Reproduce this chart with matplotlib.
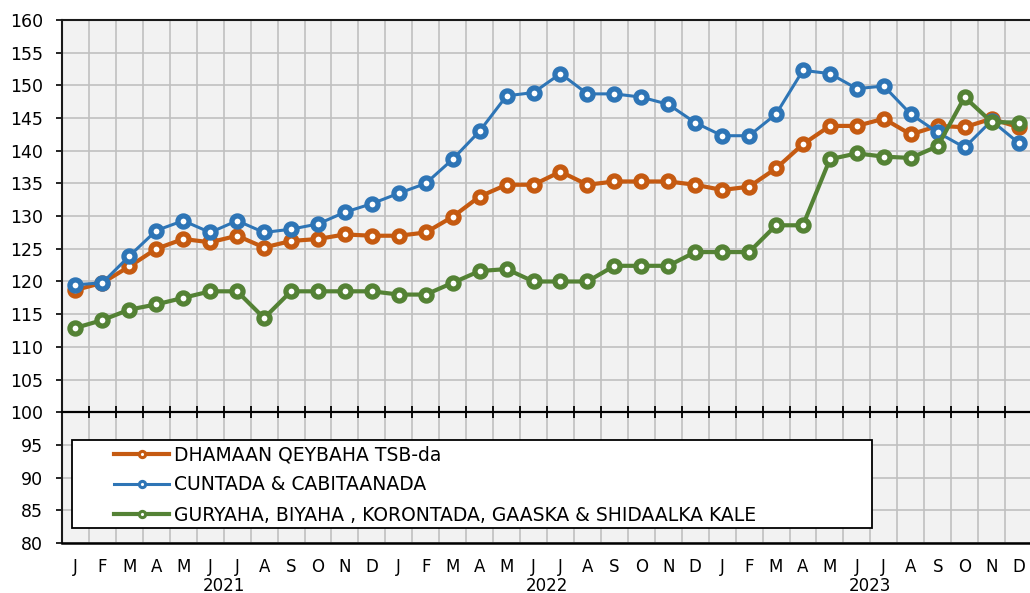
import matplotlib
matplotlib.use("Agg")
import matplotlib.pyplot as plt
import matplotlib.transforms as mtransforms
from matplotlib.patches import Rectangle

months = ["J", "F", "M", "A", "M", "J", "J", "A", "S", "O", "N", "D"] * 3
years = ["2021", "2022", "2023"]

series_names = [
    "DHAMAAN QEYBAHA TSB-da",
    "CUNTADA & CABITAANADA",
    "GURYAHA, BIYAHA , KORONTADA, GAASKA & SHIDAALKA KALE",
]

all_groups = [118.7, 119.8, 122.3, 125.0, 126.5, 126.0, 127.0, 125.2, 126.2, 126.5, 127.2, 127.0,
              127.0, 127.5, 129.9, 133.0, 134.8, 134.8, 136.8, 134.8, 135.3, 135.3, 135.3, 134.8,
              134.0, 134.5, 137.3, 141.0, 143.8, 143.8, 144.9, 142.5, 143.8, 143.6, 144.9, 143.6]

food = [119.5, 119.8, 123.9, 127.8, 129.3, 127.5, 129.3, 127.5, 128.0, 128.8, 130.6, 131.9,
        133.5, 135.0, 138.7, 143.0, 148.4, 148.9, 151.8, 148.7, 148.7, 148.2, 147.1, 144.3,
        142.3, 142.3, 145.6, 152.3, 151.8, 149.5, 149.9, 145.6, 142.8, 140.5, 144.6, 141.2]

housing = [112.9, 114.1, 115.7, 116.5, 117.5, 118.5, 118.5, 114.4, 118.5, 118.5, 118.5, 118.5,
           118.0, 118.0, 119.8, 121.6, 121.9, 120.0, 120.0, 120.0, 122.4, 122.4, 122.4, 124.5,
           124.5, 124.5, 128.6, 128.6, 138.7, 139.6, 139.1, 138.9, 140.7, 148.2, 144.4, 144.3]

colors = ["#C55A11", "#2E75B6", "#548235"]
widths = [3.0, 2.2, 3.0]

plt.rcParams["font.family"] = ["DejaVu Sans"]

fig = plt.figure(figsize=(10.30, 5.93), dpi=100)
ax = fig.add_axes([62 / 1030, 50 / 593, 970 / 1030, 523 / 593])
ax.set_facecolor("#F2F2F2")

n = len(months)
x = list(range(n))
for vals, c, lw, name in zip([all_groups, food, housing], colors, widths, series_names):
    ax.plot(x, vals, color=c, lw=lw, marker="o", ms=8, mew=3.8,
            mfc="white", mec=c, label=name, zorder=3, solid_joinstyle="round")

ax.set_xlim(-0.5, n - 0.5)
ax.set_ylim(80, 160)

# grid
ax.set_yticks(range(80, 161, 5))
ax.set_xticks([i - 0.5 for i in range(1, n + 1)])
ax.set_xticklabels([])
ax.grid(True, color="#C0C0C0", lw=1.2, zorder=0)
ax.set_axisbelow(True)

# spines
ax.spines["right"].set_visible(False)
for s in ["left", "top"]:
    ax.spines[s].set_color("#1a1a1a")
    ax.spines[s].set_linewidth(1.5)
ax.spines["bottom"].set_position(("data", 100))
ax.spines["bottom"].set_color("black")
ax.spines["bottom"].set_linewidth(1.6)
ax.axhline(80, color="black", lw=1.8, clip_on=False, zorder=5)

ax.tick_params(axis="x", direction="inout", length=9, width=1.3, color="black")
ax.tick_params(axis="y", direction="out", length=4.5, width=1.2, color="black",
               labelsize=12.5, pad=9)

trans = mtransforms.blended_transform_factory(ax.transData, ax.transAxes)
for i, m in enumerate(months):
    ax.text(i, -0.046, m, transform=trans, ha="center", va="center", fontsize=12)
for k, yr in enumerate(years):
    ax.text(k * 12 + 5.5, -0.0815, yr, transform=trans, ha="center", va="center", fontsize=12)

# legend frame drawn separately so the entries can sit further right
ax.add_patch(Rectangle((10 / 970, 15 / 523), 800 / 970, 88 / 523, transform=ax.transAxes,
                       facecolor="white", edgecolor="black", lw=1.3, zorder=5))
leg = ax.legend(loc="center left", bbox_to_anchor=((114 - 62) / 970, (543 - 485) / 523),
                fontsize=13.5, frameon=False,
                handlelength=2.95, handletextpad=0.27, borderpad=0,
                labelspacing=0.6, borderaxespad=0)
leg.set_zorder(6)
for h in leg.legend_handles:
    h.set_markersize(4.5)
    h.set_markeredgewidth(2.2)

fig.savefig("out.png", dpi=100, facecolor="white")
